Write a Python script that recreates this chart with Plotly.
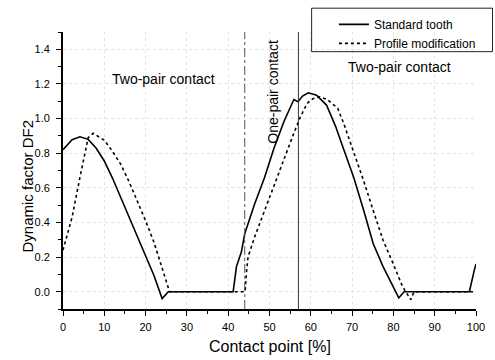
import plotly.graph_objects as go

# ---- data ----
x_std = [0, 2.2, 4.1, 6.1, 8, 10, 12, 14, 16, 18, 20, 22, 24, 25.5, 30, 35, 41.2,
         42, 43.2, 44, 46.4, 48.8, 51.1, 53.5, 55.9, 56.9, 58, 59.4, 61.4, 63.8,
         66, 68, 70.4, 72.8, 75.1, 77.5, 79.9, 81.3, 82.6, 90, 98.4, 99.6, 100]
y_std = [0.82, 0.878, 0.895, 0.88, 0.83, 0.755, 0.655, 0.545, 0.43, 0.316, 0.205, 0.095,
         -0.04, 0.0, 0.0, 0.0, 0.0,
         0.145, 0.23, 0.335, 0.507, 0.66, 0.83, 0.983, 1.11, 1.097, 1.13, 1.149, 1.135,
         1.078, 0.955, 0.82, 0.66, 0.47, 0.278, 0.145, 0.03, -0.036, 0.0, 0.0, 0.0,
         0.126, 0.16]

x_mod = [0, 2.2, 4.1, 6.1, 7.3, 10, 12, 14, 16, 18, 20, 22, 24.3, 25.8, 30, 35, 40,
         44.1, 44.4, 44.8, 46.4, 48.8, 51.1, 53.5, 55.9, 57.5, 59.1, 60.5, 62.2, 64,
         66.5, 68, 70.4, 72.8, 75.1, 77.5, 79.9, 82.2, 84.2, 85, 90, 95, 100]
y_mod = [0.24, 0.43, 0.66, 0.89, 0.915, 0.875, 0.81, 0.735, 0.635, 0.526, 0.41, 0.287,
         0.116, 0.0, 0.0, 0.0, 0.0,
         0.0, 0.107, 0.2, 0.316, 0.47, 0.61, 0.764, 0.916, 1.01, 1.087, 1.115, 1.126,
         1.11, 1.06, 0.97, 0.81, 0.64, 0.47, 0.297, 0.164, 0.03, -0.046, 0.0, 0.0, 0.0,
         0.0]

series_names = ["Standard tooth", "Profile modification"]
contact_bounds = [44, 57]          # one-pair contact region boundaries (%)
region_labels = ["Two-pair contact", "One-pair contact", "Two-pair contact"]
region_label_x = [24.3, 50.8, 81.4]
region_label_y = [1.23, 1.154, 1.30]
x_ticks = [0, 10, 20, 30, 40, 50, 60, 70, 80, 90, 100]
y_ticks = [0.0, 0.2, 0.4, 0.6, 0.8, 1.0, 1.2, 1.4]

FONT = "Liberation Sans, Arial, sans-serif"

fig = go.Figure()
fig.add_trace(go.Scatter(x=x_std, y=y_std, mode="lines", name=series_names[0],
                         line=dict(color="black", width=1.6)))
fig.add_trace(go.Scatter(x=x_mod, y=y_mod, mode="lines", name=series_names[1],
                         line=dict(color="black", width=1.6, dash="dot")))

# region boundary lines
fig.add_shape(type="line", xref="x", yref="y", x0=contact_bounds[0], x1=contact_bounds[0],
              y0=-0.1, y1=1.5, line=dict(color="#555", width=1, dash="dashdot"))
fig.add_shape(type="line", xref="x", yref="y", x0=contact_bounds[1], x1=contact_bounds[1],
              y0=-0.1, y1=1.52, line=dict(color="#333", width=1))

# legend frame
fig.add_shape(type="rect", xref="paper", yref="paper", x0=0.602, x1=1.04,
              y0=0.929, y1=1.086, line=dict(color="#222", width=1))

for i, txt in enumerate(region_labels):
    fig.add_annotation(x=region_label_x[i], y=region_label_y[i], xref="x", yref="y",
                       text=txt, showarrow=False,
                       textangle=-90 if txt.startswith("One") else 0,
                       font=dict(family=FONT, size=14, color="black"))

fig.add_annotation(x=-0.112, y=0.443, xref="paper", yref="paper",
                   text="Dynamic factor DF2", textangle=-90, showarrow=False,
                   font=dict(family=FONT, size=15, color="black"))
fig.add_annotation(x=0.5, y=-0.136, xref="paper", yref="paper",
                   text="Contact point [%]", showarrow=False, yanchor="middle",
                   font=dict(family=FONT, size=16, color="black"))

fig.update_layout(
    width=495, height=360,
    margin=dict(l=63, r=10, t=29, b=51),
    paper_bgcolor="white", plot_bgcolor="white",
    font=dict(family=FONT, size=11, color="black"),
    showlegend=True,
    legend=dict(x=0.656, y=1.08, xanchor="left", yanchor="top",
                bgcolor="rgba(0,0,0,0)", borderwidth=0,
                font=dict(family=FONT, size=12, color="black")),
    xaxis=dict(range=[0, 100], tickvals=x_ticks, ticks="outside", ticklen=5,
               tickwidth=1.2, tickcolor="black",
               minor=dict(dtick=5, tick0=0, ticks="outside", ticklen=3, tickcolor="black"),
               showline=True, linecolor="black", linewidth=1.8, zeroline=False,
               showgrid=True, gridcolor="#e4e4e4", griddash="dot", gridwidth=1,
               ticklabelstandoff=2, tickfont=dict(size=11)),
    yaxis=dict(range=[-0.1, 1.5], tickvals=y_ticks, tickformat=".1f", ticks="outside",
               ticklen=5, tickwidth=1.2, tickcolor="black",
               minor=dict(dtick=0.1, tick0=0, ticks="outside", ticklen=3, tickcolor="black"),
               showline=True, linecolor="black", linewidth=1.8, zeroline=False,
               showgrid=True, gridcolor="#e4e4e4", griddash="dot", gridwidth=1,
               ticklabelstandoff=4, tickfont=dict(size=11)),
)

fig.write_html("out.html")
